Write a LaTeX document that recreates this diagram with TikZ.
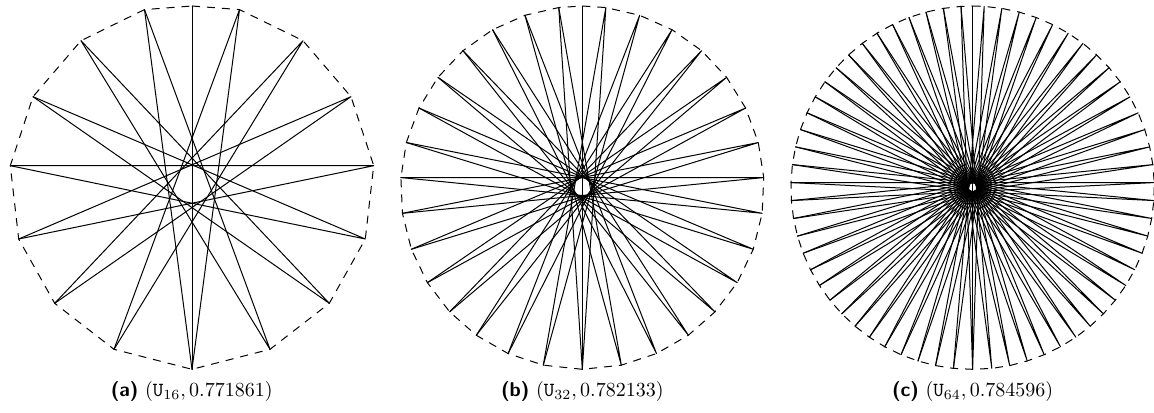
\documentclass[tikz,border=0pt]{standalone}
\begin{document}
\begin{tikzpicture}[x=0.5pt,y=-0.5pt,
  chord/.style={line width=0.5pt, line cap=round, line join=round},
  rim/.style={line width=0.5pt, dash pattern=on 4pt off 3.5pt},
  captext/.style={inner sep=0pt, anchor=center}]
\useasboundingbox (0,0) rectangle (1154,412);

\newcommand\drawdiam[2]{%
  \draw[chord] (#1-t) -- (#1-b);
  \foreach \k in {1,...,#2} {
    \pgfmathtruncatemacro\ja{#2-\k}
    \pgfmathtruncatemacro\jb{#2-\k+1}
    \draw[chord] (#1-l\ja) -- (#1-r\k) -- (#1-l\jb);
  }
  \draw[chord] (#1-l#2) -- (#1-b);
  \draw[rim] (#1-t) foreach \k in {#2,...,1} {-- (#1-r\k)} -- (#1-b)
     foreach \k in {1,...,#2} {-- (#1-l\k)} -- cycle;
}

% ---------- (a) U_16 ----------
\coordinate (a-t) at (192,6);
\coordinate (a-b) at (192,369.3);
\coordinate (a-r0) at (a-b);
\coordinate (a-l0) at (a-b);
\foreach \k/\dx/\y in {1/78/349.3, 2/137.3/303.3, 3/173.3/239, 4/181.7/165.7,
                       5/159/96.7, 6/111/40.7, 7/47.5/9.6} {
  \coordinate (a-r\k) at (192+\dx,\y);
  \coordinate (a-l\k) at (192-\dx,\y);
}
\drawdiam{a}{7}

% ---------- (b) U_32 ----------
\coordinate (b-t) at (582.3,6);
\coordinate (b-b) at (582.3,369.3);
\coordinate (b-r0) at (b-b);
\coordinate (b-l0) at (b-b);
\foreach \k/\th in {1/167.6, 2/155.9, 3/144.3, 4/133.1, 5/121.5, 6/109.8, 7/98.1,
                    8/86.8, 9/75.6, 10/64.0, 11/52.6, 12/41.05, 13/29.6, 14/18.4, 15/7.45} {
  \coordinate (b-r\k) at ({582.3+181.7*sin(\th)},{187.7-181.7*cos(\th)});
  \coordinate (b-l\k) at ({582.3-181.7*sin(\th)},{187.7-181.7*cos(\th)});
}
\drawdiam{b}{15}

% ---------- (c) U_64 ----------
\coordinate (c-t) at (972.6,6);
\coordinate (c-b) at (972.6,369.3);
\coordinate (c-r0) at (c-b);
\coordinate (c-l0) at (c-b);
\foreach \k in {1,...,31} {
  \pgfmathsetmacro\th{180-\k*360/63+(-0.35+1.15*(\k/31)^3)}
  \coordinate (c-r\k) at ({972.6+181.7*sin(\th)},{187.7-181.7*cos(\th)});
  \coordinate (c-l\k) at ({972.6-181.7*sin(\th)},{187.7-181.7*cos(\th)});
}
\drawdiam{c}{31}

% ---------- captions ----------
\node[captext] (capa) at (191.7,391) {\textsf{\textbf{(a)}} $(\mathtt{U}_{16}, 0.771861)$};
\node[captext] (capb) at (582.3,391) {\textsf{\textbf{(b)}} $(\mathtt{U}_{32}, 0.782133)$};
\node[captext] (capc) at (972.6,391) {\textsf{\textbf{(c)}} $(\mathtt{U}_{64}, 0.784596)$};
\end{tikzpicture}
\end{document}
